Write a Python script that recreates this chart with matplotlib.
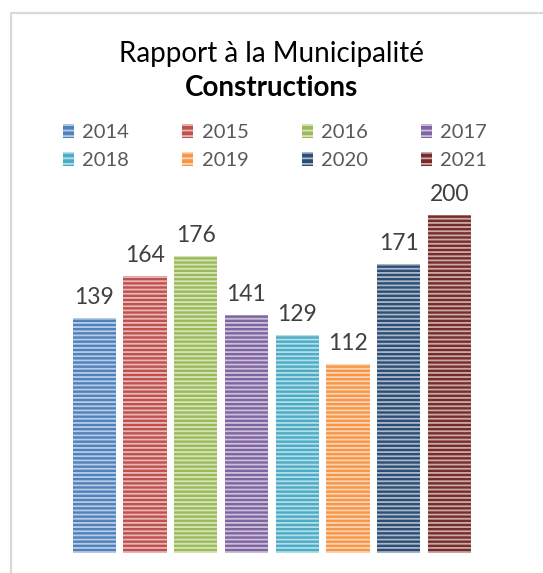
import matplotlib
matplotlib.use("Agg")
import matplotlib.pyplot as plt
from matplotlib.lines import Line2D

years = ["2014", "2015", "2016", "2017", "2018", "2019", "2020", "2021"]
values = [139, 164, 176, 141, 129, 112, 171, 200]
colors = ["#4f81bd", "#c0504d", "#9bbb59", "#8064a2",
          "#4bacc6", "#f79646", "#2c4d75", "#772c2a"]
title_line1 = "Rapport à la Municipalité"
title_line2 = "Constructions"

plt.rcParams['font.family'] = ['Lato', 'DejaVu Sans']
plt.rcParams['hatch.linewidth'] = 1.3

fig = plt.figure(figsize=(5.43, 5.73), dpi=100)
W, H = 543, 573
ax = fig.add_axes([68.8 / W, 1 - 553 / H, 406.1 / W, (553 - 215) / H])

x = list(range(len(years)))
bars = ax.bar(x, values, width=0.85, color=colors, edgecolor=(1, 1, 1, 0.6),
              linewidth=0, hatch='----')

for xi, v in zip(x, values):
    ax.annotate(str(v), (xi, v), xytext=(0, 7), textcoords='offset points',
                ha='center', va='bottom', fontsize=16.5, color='#404040',
                annotation_clip=False)

ax.set_xlim(-0.5, len(years) - 0.5)
ax.set_ylim(0, max(values))
ax.axis('off')

fig.text(0.5, 1 - 62 / H, title_line1, ha='center', va='baseline',
         fontsize=20, color='#000000')
fig.text(0.5, 1 - 96 / H, title_line2, ha='center', va='baseline',
         fontsize=20, fontweight='bold', color='#000000')

# legend in row-major order (4 columns, 2 rows)
ncol = 4
nrow = (len(years) + ncol - 1) // ncol
order = [r * ncol + c for c in range(ncol) for r in range(nrow)]
handles = [plt.Rectangle((0, 0), 1, 1, facecolor=colors[i],
                         edgecolor=(1, 1, 1, 0.6), linewidth=0, hatch='---')
           for i in order]
labels = [years[i] for i in order]
leg = fig.legend(handles, labels, ncol=ncol, loc='upper left',
                 bbox_to_anchor=(63 / W, 1 - 124 / H), frameon=False,
                 fontsize=14.5, handlelength=0.55, handleheight=0.7,
                 handletextpad=0.4, columnspacing=2.65, labelspacing=0.55,
                 borderpad=0, borderaxespad=0)
for t in leg.get_texts():
    t.set_color('#595959')

# chart frame (top and left edges visible)
fig.add_artist(Line2D([11 / W, 11 / W, 1.0], [0.0, 1 - 13 / H, 1 - 13 / H],
                      transform=fig.transFigure, color='#d9d9d9', linewidth=1.6))

fig.savefig("out.png", dpi=100, facecolor='white')
